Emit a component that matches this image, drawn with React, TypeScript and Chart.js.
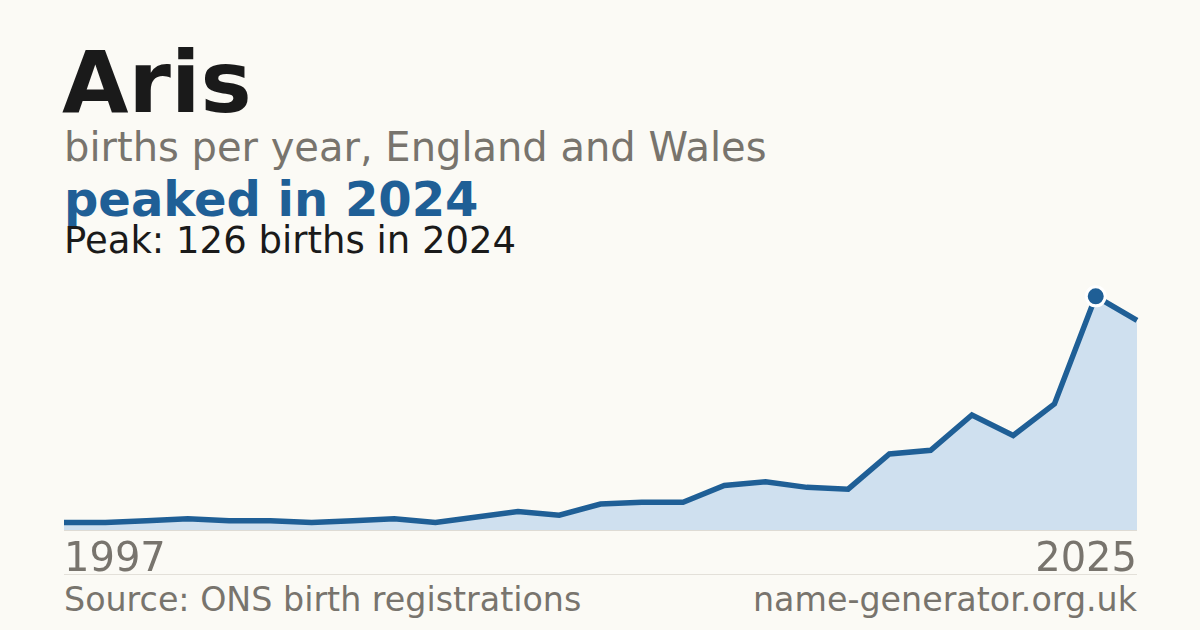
import React, { useEffect, useRef } from "react";
import { Chart, registerables } from "chart.js";

Chart.register(...registerables);

const years: string[] = [
  "1997", "1998", "2000", "2001", "2002", "2004", "2005", "2006", "2007",
  "2008", "2009", "2010", "2011", "2012", "2013", "2014", "2015", "2016",
  "2017", "2018", "2019", "2020", "2021", "2022", "2023", "2024", "2025",
];
const births: number[] = [
  4, 4, 5, 6, 5, 5, 4, 5, 6, 4, 7, 10, 8, 14, 15, 15, 24, 26, 23, 22, 41, 43,
  62, 51, 68, 126, 113,
];
const edgeTicks: string[] = ["1997", "2025"];

const BG = "#fbfaf5";
const BLUE = "#1f5f96";
const FILL = "#cfe0ef";
const GREY = "#78746d";
const FONT = "'DejaVu Sans', sans-serif";

export default function App() {
  const ref = useRef<HTMLCanvasElement | null>(null);

  useEffect(() => {
    if (!ref.current) return;
    const peakIdx = births.indexOf(Math.max(...births));
    const chart = new Chart(ref.current, {
      type: "line",
      data: {
        labels: years,
        datasets: [
          {
            data: births,
            borderColor: BLUE,
            backgroundColor: FILL,
            borderWidth: 5.5,
            fill: "origin",
            tension: 0,
            pointRadius: (ctx: any) => (ctx.dataIndex === peakIdx ? 9.5 : 0),
            pointHoverRadius: 0,
            pointBackgroundColor: BLUE,
            pointBorderColor: "#ffffff",
            pointBorderWidth: 3,
          },
        ],
      },
      options: {
        animation: false,
        responsive: false,
        maintainAspectRatio: false,
        devicePixelRatio: 1,
        layout: { padding: { left: 24, right: 23, top: 0, bottom: 20 } },
        plugins: { legend: { display: false }, tooltip: { enabled: false } },
        events: [],
        scales: {
          x: { display: false, offset: false },
          y: { display: false, min: 0, max: 151 },
        },
      },
    });
    return () => chart.destroy();
  }, []);

  const abs = (s: React.CSSProperties): React.CSSProperties => ({
    position: "absolute",
    whiteSpace: "nowrap",
    fontFamily: FONT,
    lineHeight: 1,
    margin: 0,
    ...s,
  });

  return (
    <div
      style={{
        position: "fixed",
        left: 0,
        top: 0,
        width: 1200,
        height: 630,
        background: BG,
        overflow: "hidden",
      }}
    >
      <div style={abs({ left: 62, top: 39, fontSize: 86, fontWeight: 700, color: "#1a1a1a" })}>Aris</div>
      <div style={abs({ left: 64, top: 127, fontSize: 40, color: GREY })}>
        births per year, England and Wales
      </div>
      <div style={abs({ left: 64, top: 175, fontSize: 48, fontWeight: 700, color: BLUE })}>
        peaked in 2024
      </div>
      <div style={abs({ left: 64, top: 222, fontSize: 37, color: "#1a1a1a" })}>
        Peak: 126 births in 2024
      </div>
      <canvas
        ref={ref}
        width={1120}
        height={300}
        style={{ position: "absolute", left: 40, top: 250, width: 1120, height: 300 }}
      />
      <div style={{ position: "absolute", left: 64, top: 530, width: 1073, height: 1, background: "#dedbd4" }} />
      <div style={abs({ left: 64, top: 537, fontSize: 40, color: GREY })}>{edgeTicks[0]}</div>
      <div style={abs({ right: 63, top: 537, fontSize: 40, color: GREY })}>{edgeTicks[1]}</div>
      <div style={{ position: "absolute", left: 64, top: 574, width: 1073, height: 1, background: "#e3e0d9" }} />
      <div style={abs({ left: 64, top: 583, fontSize: 33.3, color: GREY })}>
        Source: ONS birth registrations
      </div>
      <div style={abs({ right: 63, top: 583, fontSize: 33.3, color: GREY })}>name-generator.org.uk</div>
    </div>
  );
}
